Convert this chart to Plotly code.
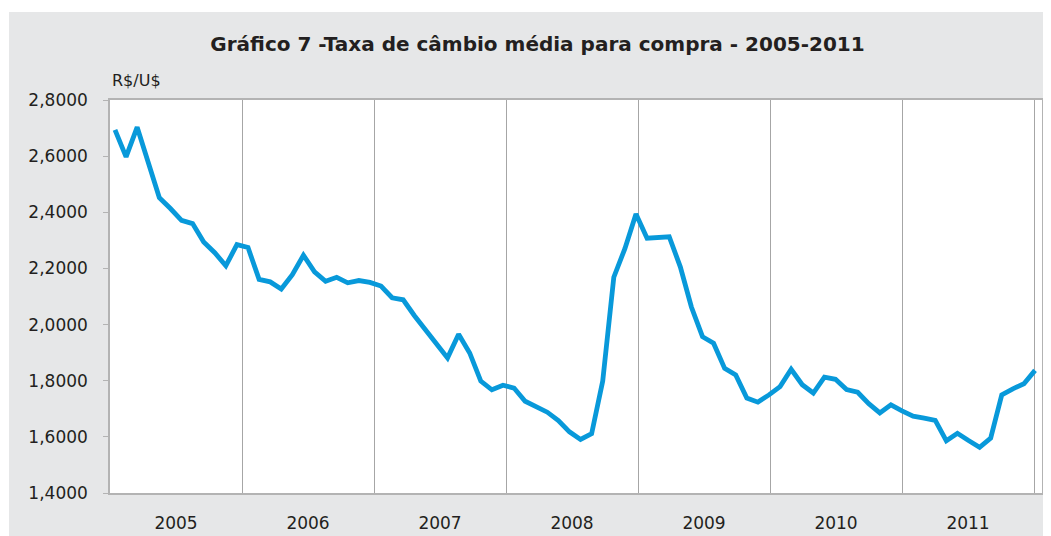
import plotly.graph_objects as go

# Taxa de câmbio média mensal para compra (R$/US$), jan/2005 a dez/2011
anos = ["2005", "2006", "2007", "2008", "2009", "2010", "2011"]

taxa_2005 = [2.6933, 2.5973, 2.7031, 2.5806, 2.4522, 2.4135, 2.3712, 2.3598, 2.2943, 2.2560, 2.2096, 2.2847]
taxa_2006 = [2.2745, 2.1609, 2.1521, 2.1265, 2.1776, 2.2469, 2.1879, 2.1541, 2.1684, 2.1487, 2.1568, 2.1500]
taxa_2007 = [2.1372, 2.0956, 2.0883, 2.0323, 1.9813, 1.9303, 1.8814, 1.9655, 1.8988, 1.7988, 1.7676, 1.7839]
taxa_2008 = [1.7738, 1.7269, 1.7078, 1.6879, 1.6584, 1.6179, 1.5910, 1.6114, 1.7986, 2.1687, 2.2706, 2.3939]
taxa_2009 = [2.3077, 2.3103, 2.3128, 2.2058, 2.0627, 1.9568, 1.9334, 1.8438, 1.8203, 1.7383, 1.7237, 1.7495]
taxa_2010 = [1.7790, 1.8408, 1.7858, 1.7561, 1.8126, 1.8051, 1.7687, 1.7590, 1.7183, 1.6852, 1.7141, 1.6926]
taxa_2011 = [1.6736, 1.6670, 1.6586, 1.5858, 1.6125, 1.5868, 1.5630, 1.5956, 1.7498, 1.7712, 1.7892, 1.8369]

taxa = taxa_2005 + taxa_2006 + taxa_2007 + taxa_2008 + taxa_2009 + taxa_2010 + taxa_2011
meses = list(range(len(taxa)))

# posições das divisões entre anos e dos rótulos (em meses)
divisoes = [12 * i for i in range(1, len(anos) + 1)]
centros = [12 * i + 6 for i in range(len(anos))]

fonte = "DejaVu Sans, Verdana, sans-serif"
cinza_texto = "#231f20"

fig = go.Figure()

# traço vazio só para o eixo x principal (grade e anos) ser desenhado
fig.add_trace(go.Scatter(x=[], y=[], showlegend=False, hoverinfo="skip"))

fig.add_trace(go.Scatter(
    x=meses,
    y=taxa,
    mode="lines",
    line=dict(color="#0899da", width=4.8),
    xaxis="x2",
    showlegend=False,
    hoverinfo="skip"
))

fig.update_layout(
    width=1043,
    height=528,
    margin=dict(l=102, r=9, t=92, b=43, autoexpand=False),
    paper_bgcolor="#e6e7e8",
    plot_bgcolor="white",
    separators=",.",
    font=dict(family=fonte, color=cinza_texto),
    title=dict(
        text="<b>Gráfico 7 -Taxa de câmbio média para compra - 2005-2011</b>",
        font=dict(size=20, color=cinza_texto),
        x=529.5 / 1043, xref="container", xanchor="center",
        y=1 - 36 / 528, yref="container", yanchor="middle"
    ),
    xaxis=dict(
        range=[0, 932 / 11],
        tickmode="array",
        tickvals=centros,
        ticktext=anos,
        ticks="",
        showgrid=False,
        zeroline=False,
        showline=True,
        mirror=True,
        linecolor="#b3b3b3",
        linewidth=1.5,
        automargin=False,
        tickfont=dict(size=17, color=cinza_texto),
        ticklabelstandoff=14,
        minor=dict(
            tickmode="array",
            tickvals=divisoes,
            showgrid=True,
            gridcolor="#a6a6a6",
            gridwidth=1.3,
            ticks=""
        )
    ),
    xaxis2=dict(
        overlaying="x",
        range=[-0.451, 83.63],
        visible=False
    ),
    yaxis=dict(
        range=[1.4, 2.8],
        tickmode="array",
        tickvals=[1.4, 1.6, 1.8, 2.0, 2.2, 2.4, 2.6, 2.8],
        tickformat=".4f",
        ticks="outside",
        ticklen=5,
        tickcolor="#b3b3b3",
        tickwidth=1.3,
        showgrid=False,
        zeroline=False,
        showline=True,
        mirror=True,
        linecolor="#b3b3b3",
        linewidth=1.5,
        automargin=False,
        tickfont=dict(size=17, color=cinza_texto),
        ticklabelstandoff=12
    ),
    shapes=[
        # faixas brancas fora do painel cinza
        dict(type="rect", xref="paper", yref="paper",
             x0=-0.2, x1=1.1, y0=1 + 88 / 393, y1=1.4,
             fillcolor="white", line=dict(width=0), layer="below"),
        dict(type="rect", xref="paper", yref="paper",
             x0=-0.2, x1=-101 / 932, y0=-0.2, y1=1.4,
             fillcolor="white", line=dict(width=0), layer="below"),
    ],
    annotations=[
        dict(text="R$/U$", xref="paper", yref="paper",
             x=0, y=1 + 20 / 393, xanchor="left", yanchor="middle",
             showarrow=False, font=dict(size=16, color=cinza_texto))
    ]
)

fig.write_html("out.html")
